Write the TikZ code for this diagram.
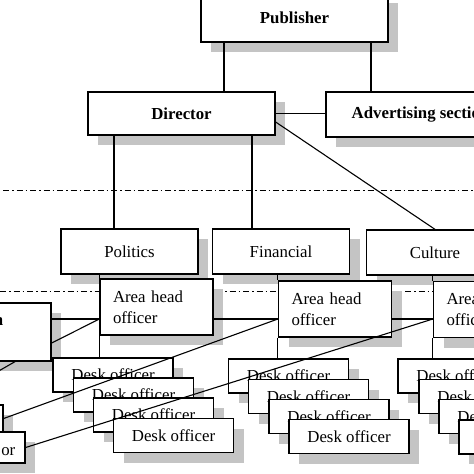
\documentclass[tikz,border=0pt]{standalone}
\usepackage{fontspec}
\setmainfont{Liberation Serif}
\usetikzlibrary{shadows}
\definecolor{shadowgray}{gray}{0.77}
\begin{document}
\begin{tikzpicture}[x=1pt,y=-1pt,
  box/.style={draw, fill=white, line width=1.3pt, inner sep=0pt,
    font=\fontsize{16.8}{21}\selectfont,
    general shadow={fill=shadowgray, shadow xshift=10pt, shadow yshift=-10pt}},
  topbox/.style={box, font=\fontsize{16.8}{21}\selectfont\bfseries},
  deptbox/.style={box, minimum width=137pt, minimum height=45pt},
  areabox/.style={box, minimum width=113pt, minimum height=56pt, text width=87pt, align=left},
  deskbox/.style={box, minimum width=120pt, minimum height=34pt},
  conn/.style={line width=1.1pt},
  dashdot/.style={line width=0.9pt, dash pattern=on 6pt off 3pt on 1.5pt off 3pt},
  frag/.style={inner sep=0pt, font=\fontsize{16.8}{21}\selectfont}]
\useasboundingbox (0,0) rectangle (474,474);
\clip (0,0) rectangle (474,474);
% helper coordinates
\coordinate (dl1) at (3,190);
\coordinate (dr1) at (474,190);
\coordinate (dl2) at (0,291);
\coordinate (dr2) at (474,291);
\coordinate (c1) at (224,0);
\coordinate (c2) at (371,0);
\coordinate (c3) at (114,0);
\coordinate (c4) at (252,0);
\coordinate (h) at (0,319);
\coordinate (la) at (-10,376);
\coordinate (la2) at (15,0);
% dash-dot level lines
\draw[dashdot] (dl1) -- (dr1);
\draw[dashdot] (dl2) -- (dr2);
% top level
\node[topbox, minimum width=187pt, minimum height=49pt] (pub) at (294.5,17.5) {Publisher};
\node[topbox, minimum width=187pt, minimum height=43pt] (dir) at (181.5,113.5) {Director};
\node[topbox, minimum width=189pt, minimum height=45pt] (adv) at (420.5,114.5) {Advertising section};
% departments
\node[deptbox] (pol) at (129.5,251.5) {Politics};
\node[deptbox] (fin) at (281,251.5) {Financial};
\node[deptbox] (cul) at (435,252.5) {Culture};
% area heads
\node[areabox] (ah1) at (156.5,307) {Area head\\officer};
\node[areabox] (ah2) at (335,309) {Area head\\officer};
\node[areabox] (ah3) at (490,309.5) {Area head\\officer};
% left partial column
\node[box, minimum width=131pt, minimum height=58pt] (lb) at (-14.5,332) {};
\node[frag, font=\fontsize{16.8}{21}\selectfont\bfseries, anchor=base east] (lbt) at (3.3,325) {n};
\node[box, minimum width=103pt, minimum height=27pt] (sb) at (-48.5,418.5) {};
\node[box, minimum width=125pt, minimum height=31pt] (ob) at (-37.5,447.5) {};
\node[frag, anchor=base east] (obt) at (15.5,455) {or};
% desk officers
\node[deskbox] (d11) at (113,375) {Desk officer};
\node[deskbox] (d12) at (133.5,395) {Desk officer};
\node[deskbox] (d13) at (153.5,415) {Desk officer};
\node[deskbox] (d14) at (173.5,435.5) {Desk officer};
\node[deskbox] (d21) at (288.5,376) {Desk officer};
\node[deskbox] (d22) at (308.5,396.5) {Desk officer};
\node[deskbox] (d23) at (329,416.5) {Desk officer};
\node[deskbox] (d24) at (349,436.5) {Desk officer};
\node[deskbox] (d31) at (458,376) {Desk officer};
\node[deskbox] (d32) at (479,396.5) {Desk officer};
\node[deskbox] (d33) at (499,416.5) {Desk officer};
\node[deskbox] (d34) at (519,437) {Desk officer};
% connectors
\draw[conn] (pub.south -| c1) -- (dir.north -| c1);
\draw[conn] (pub.south -| c2) -- (adv.north -| c2);
\draw[conn] (dir.east) -- (dir.east -| adv.west);
\draw[conn] ([yshift=-8.5pt]dir.east) -- (cul.north);
\draw[conn] (dir.south -| c3) -- (pol.north -| c3);
\draw[conn] (dir.south -| c4) -- (fin.north -| c4);
\draw[conn] (pol.south -| ah1.west) -- (ah1.north west);
\draw[conn] (ah1.south west) -- (ah1.south west |- d11.north);
\draw[conn] (fin.south -| ah2.west) -- (ah2.north west);
\draw[conn] (ah2.south west) -- (ah2.south west |- d21.north);
\draw[conn] (cul.south -| ah3.west) -- (ah3.north west);
\draw[conn] (ah3.south west) -- (ah3.south west |- d31.north);
\draw[conn] (h -| lb.east) -- (h -| ah1.west);
\draw[conn] (h -| ah1.east) -- (h -| ah2.west);
\draw[conn] (h -| ah2.east) -- (h -| ah3.west);
\draw[conn] (la) -- (la2 |- lb.south);
\draw[conn] ([yshift=-11pt]lb.east) -- (h -| ah1.west);
\draw[conn] (sb.east) -- (h -| ah2.west);
\draw[conn] (ob.east) -- (h -| ah3.west);
\end{tikzpicture}
\end{document}
